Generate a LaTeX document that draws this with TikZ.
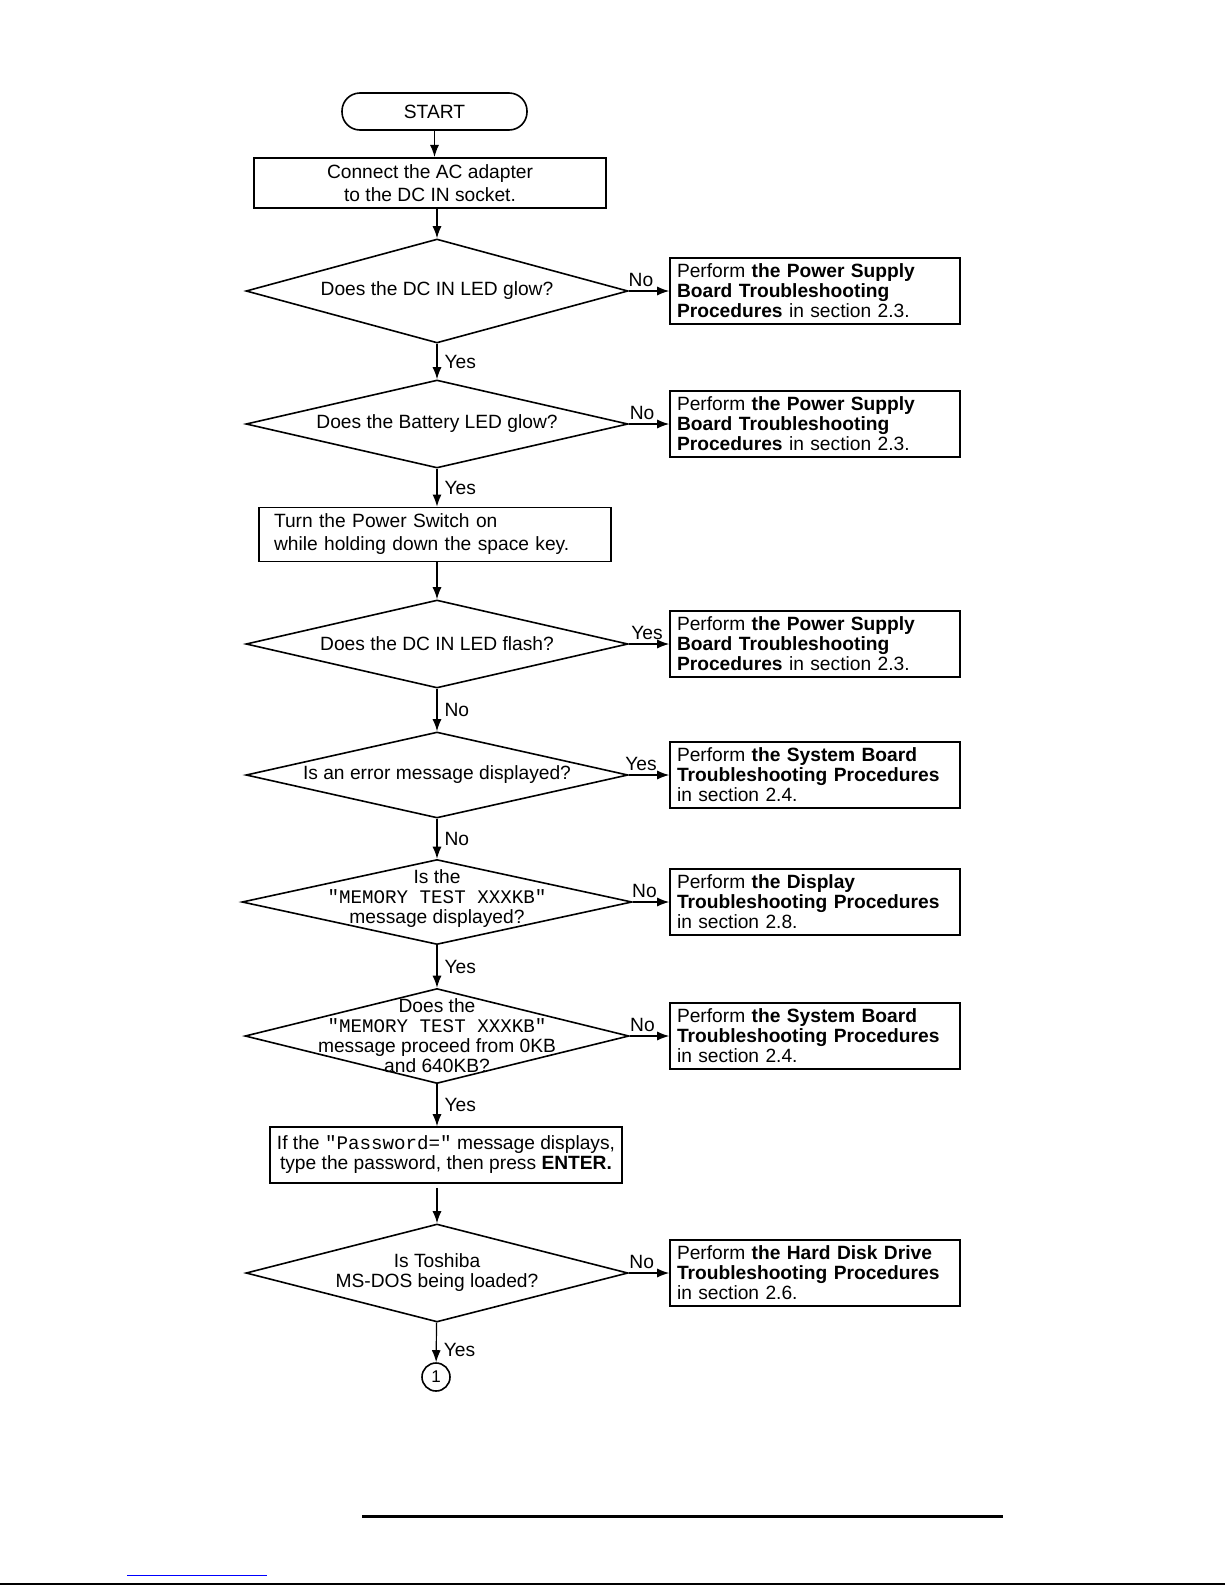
\documentclass[tikz,border=0pt]{standalone}
\usepackage{fontspec}
\setmainfont{Liberation Sans}
\setmonofont{Liberation Mono}
\usetikzlibrary{shapes.geometric,arrows.meta}
\begin{document}
\begin{tikzpicture}[x=0.5pt,y=-0.5pt,>={Latex[length=6pt,width=4.5pt]},
  font=\fontsize{9.6}{10}\selectfont,
  terminal/.style={draw,line width=.8pt,rounded corners=9pt,minimum width=92.5pt,minimum height=18.5pt},
  action/.style={draw,line width=.8pt,minimum width=176pt,align=center},
  decision/.style={draw,diamond,line width=.8pt,inner sep=0pt},
  result/.style={draw,line width=.8pt,text width=138pt,inner xsep=3.5pt,inner ysep=0pt,minimum height=33pt,align=left},
  flow/.style={->,line width=.6pt},
  ans/.style={inner sep=2pt},
  side/.style={right,inner sep=3.5pt}]
\useasboundingbox (0,0) rectangle (1225,1585);
\node[terminal] (start) at (434.5,111.5) {START};
\node[action,minimum height=25pt,font=\fontsize{9.6}{11.5}\selectfont] (b1) at (430,183) {Connect the AC adapter\\to the DC IN socket.};
\node[decision,minimum width=191pt,minimum height=52pt] (d1) at (437,291) {};
\node (q1) at (d1) {Does the DC IN LED glow?};
\node[result] (r1) at (815,291) {Perform \textbf{the Power Supply}\\\textbf{Board Troubleshooting}\\\textbf{Procedures} in section 2.3.};
\node[decision,minimum width=191pt,minimum height=44pt] (d2) at (437,424) {};
\node (q2) at (d2) {Does the Battery LED glow?};
\node[result] (r2) at (815,424) {Perform \textbf{the Power Supply}\\\textbf{Board Troubleshooting}\\\textbf{Procedures} in section 2.3.};
\node[action,minimum height=24.5pt,text width=161pt,inner xsep=7.5pt,align=left,font=\fontsize{9.6}{11.5}\selectfont] (b3) at (435,534.5) {Turn the Power Switch on\\while holding down the space key.};
\node[decision,minimum width=191pt,minimum height=44pt] (d3) at (437,644) {};
\node (q3) at (d3) {Does the DC IN LED flash?};
\node[result] (r3) at (815,644) {Perform \textbf{the Power Supply}\\\textbf{Board Troubleshooting}\\\textbf{Procedures} in section 2.3.};
\node[decision,minimum width=191pt,minimum height=43pt] (d4) at (437,775) {};
\node (q4) at (d4) {Is an error message displayed?};
\node[result] (r4) at (815,775) {Perform \textbf{the System Board}\\\textbf{Troubleshooting Procedures}\\in section 2.4.};
\node[decision,minimum width=195pt,minimum height=42.5pt] (d5) at (437,902) {};
\node[align=center] (q5) at (437,899) {Is the\\\texttt{"MEMORY TEST XXXKB"}\\message displayed?};
\node[result] (r5) at (815,902) {Perform \textbf{the Display}\\\textbf{Troubleshooting Procedures}\\in section 2.8.};
\node[decision,minimum width=192pt,minimum height=47.5pt] (d6) at (437,1036) {};
\node[align=center] (q6) at (d6) {Does the\\\texttt{"MEMORY TEST XXXKB"}\\message proceed from 0KB\\and 640KB?};
\node[result] (r6) at (815,1036) {Perform \textbf{the System Board}\\\textbf{Troubleshooting Procedures}\\in section 2.4.};
\node[action,minimum height=28pt] (b7) at (446,1155) {If the \texttt{"Password="} message displays,\\type the password, then press \textbf{ENTER.}};
\node[decision,minimum width=191pt,minimum height=49pt] (d8) at (437,1273) {};
\node[align=center] (q8) at (d8) {Is Toshiba\\MS-DOS being loaded?};
\node[result] (r8) at (815,1273) {Perform \textbf{the Hard Disk Drive}\\\textbf{Troubleshooting Procedures}\\in section 2.6.};
\node[draw,circle,line width=.8pt,minimum size=14pt,inner sep=0pt,font=\fontsize{8.5}{10}\selectfont] (c1) at (436,1377) {1};
\draw[flow] (start) -- (start |- b1.north);
\draw[flow] (b1.south -| d1.north) -- (d1);
\draw[flow] (d1) -- node[side]{Yes} (d2);
\draw[flow] (d2) -- node[side]{Yes} (d2 |- b3.north);
\draw[flow] (b3.south -| d3.north) -- (d3);
\draw[flow] (d3) -- node[side]{No} (d4);
\draw[flow] (d4) -- node[side]{No} (d5);
\draw[flow] (d5) -- node[side]{Yes} (d6);
\draw[flow] (d6) -- node[side]{Yes} (d6 |- b7.north);
\draw[flow,shorten <=2pt] (b7.south -| d8.north) -- (d8);
\draw[flow] (d8) -- node[side,pos=.7]{Yes} (c1);
\draw[flow] (d1) -- node[above,ans,pos=.3]{No} (r1);
\draw[flow] (d2) -- node[above,ans,pos=.33]{No} (r2);
\draw[flow] (d3) -- node[above,ans,pos=.45]{Yes} (r3);
\draw[flow] (d4) -- node[above,ans,pos=.3]{Yes} (r4);
\draw[flow] (d5) -- node[above,ans,pos=.32]{No} (r5);
\draw[flow] (d6) -- node[above,ans,pos=.32]{No} (r6);
\draw[flow] (d8) -- node[above,ans,pos=.32]{No} (r8);
\draw[line width=1.5pt] (362,1516) -- (1003,1516);
\draw[blue,line width=.5pt] (127,1575) -- (267,1575);
\draw[line width=.8pt] (0,1584) -- (1225,1584);
\end{tikzpicture}
\end{document}
